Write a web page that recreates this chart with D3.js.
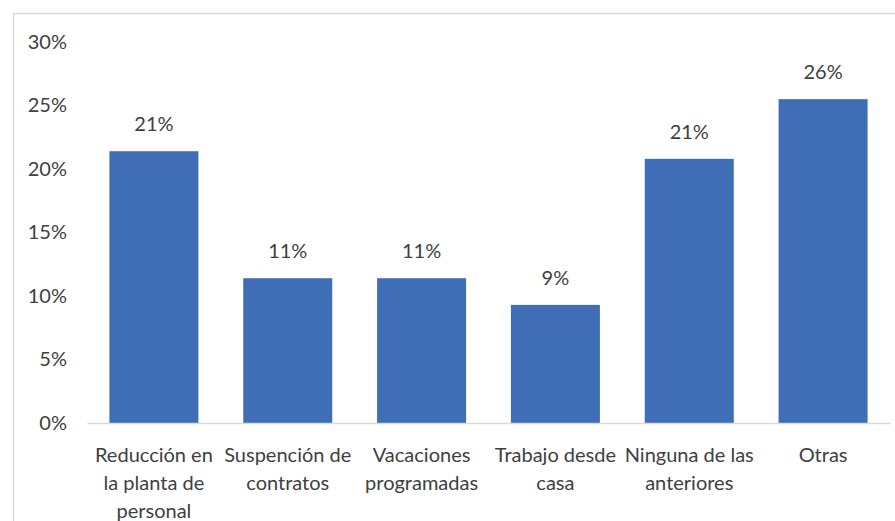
<!DOCTYPE html>
<html>
<head>
<meta charset="utf-8">
<script src="https://cdn.jsdelivr.net/npm/d3@7/dist/d3.min.js"></script>
<style>
  html, body { margin: 0; padding: 0; background: #ffffff; }
  svg { display: block; }
  text { font-family: Lato, "Open Sans", sans-serif; fill: #404040; }
</style>
</head>
<body>
<svg id="chart" width="895" height="521"></svg>
<script>
// Measures taken by companies (share of responses)
const categories = [
  "Reducción en\nla planta de\npersonal",
  "Suspención de\ncontratos",
  "Vacaciones\nprogramadas",
  "Trabajo desde\ncasa",
  "Ninguna de las\nanteriores",
  "Otras"
];
const values = [0.214, 0.114, 0.114, 0.093, 0.208, 0.255];
const yTicks = [0, 0.05, 0.10, 0.15, 0.20, 0.25, 0.30];

const width = 895, height = 521;
const svg = d3.select("#chart");
const pct = d3.format(".0%");

// chart area frame
svg.append("rect")
  .attr("x", 13.5).attr("y", 13.5)
  .attr("width", 900).attr("height", 600)
  .attr("fill", "none")
  .attr("stroke", "#d9d9d9")
  .attr("stroke-width", 1.5);

const x = d3.scaleBand()
  .domain(categories)
  .range([87, 890])
  .paddingInner(0.335)
  .paddingOuter(0.1675);

const y = d3.scaleLinear()
  .domain([0, 0.30])
  .range([423, 42]);

// value axis: labels only
const yAxis = svg.append("g")
  .attr("transform", "translate(87,0)")
  .call(d3.axisLeft(y).tickValues(yTicks).tickFormat(pct).tickSize(0).tickPadding(20));
yAxis.select(".domain").remove();
yAxis.selectAll("text")
  .attr("font-size", 20)
  .attr("fill", "#404040")
  .style("font-family", "Lato, 'Open Sans', sans-serif");

// bars
svg.append("g").selectAll("rect")
  .data(values)
  .join("rect")
  .attr("x", (d, i) => x(categories[i]))
  .attr("y", d => y(d))
  .attr("width", x.bandwidth())
  .attr("height", d => y(0) - y(d))
  .attr("fill", "#3f6eb6");

// data labels
svg.append("g").selectAll("text")
  .data(values)
  .join("text")
  .attr("x", (d, i) => x(categories[i]) + x.bandwidth() / 2)
  .attr("y", d => y(d) - 20)
  .attr("text-anchor", "middle")
  .attr("font-size", 20)
  .text(d => pct(d));

// category axis
const xAxis = svg.append("g")
  .attr("transform", `translate(0,${y(0)})`)
  .call(d3.axisBottom(x).tickSize(0).tickFormat(""));
xAxis.select(".domain")
  .attr("stroke", "#d9d9d9")
  .attr("stroke-width", 1.5);

xAxis.selectAll(".tick").each(function(d) {
  const t = d3.select(this).append("text")
    .attr("text-anchor", "middle")
    .attr("font-size", 20)
    .attr("fill", "#404040")
    .style("font-family", "Lato, 'Open Sans', sans-serif");
  d.split("\n").forEach((line, k) => {
    t.append("tspan")
      .attr("x", 0)
      .attr("y", 39 + k * 28)
      .text(line);
  });
});
</script>
</body>
</html>
